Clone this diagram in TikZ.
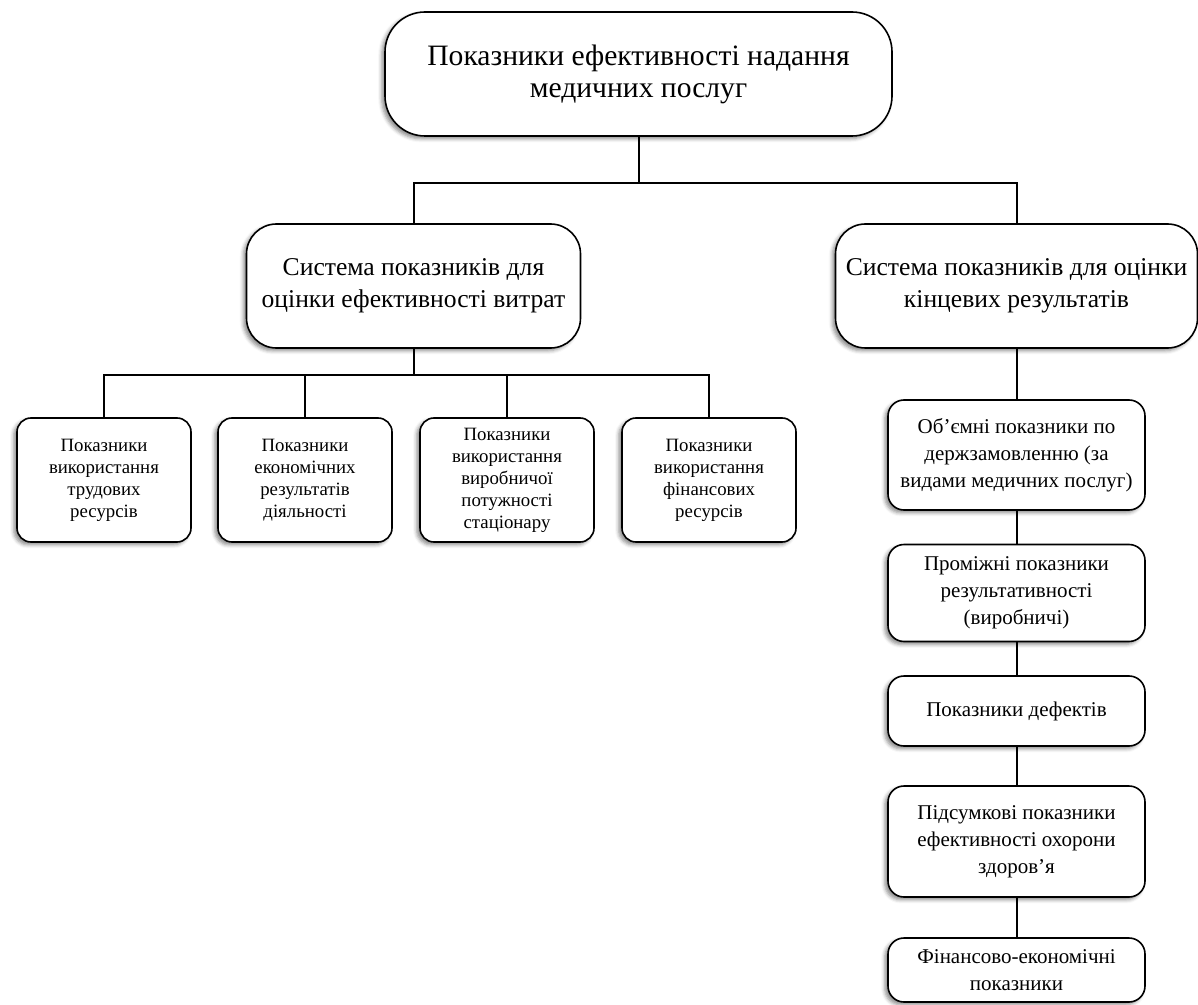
\documentclass[tikz,border=0pt]{standalone}
\usepackage{fontspec}
\setmainfont{Liberation Serif}
\usetikzlibrary{shadows.blur}

\tikzset{
  box/.style={draw, thick, fill=white, align=center, inner sep=2pt,
    blur shadow={shadow xshift=-1.6pt, shadow yshift=-1.4pt, shadow blur radius=1.8pt, shadow opacity=45}},
  topbox/.style={box, rounded corners=20pt, minimum width=253.5pt, minimum height=62pt,
    font=\fontsize{14.8}{16}\selectfont},
  groupbox/.style={box, rounded corners=15pt, minimum height=62pt, inner xsep=0pt,
    font=\fontsize{12.8}{16}\selectfont},
  leafbox/.style={box, rounded corners=7pt, minimum width=87pt, minimum height=62pt,
    font=\fontsize{9.4}{11}\selectfont},
  chainbox/.style={box, rounded corners=8pt, minimum width=128.5pt,
    font=\fontsize{10.5}{13.5}\selectfont},
  link/.style={draw, line width=1pt}
}

\begin{document}
\begin{tikzpicture}[x=0.5pt, y=-0.5pt]
\useasboundingbox (0,0) rectangle (1198,1005);

% top level
\node[topbox] (main) at (638.5,74) {Показники ефективності надання\\медичних послуг};

% two systems
\node[groupbox, minimum width=167pt] (costs) at (413.5,286) {Система показників для\\оцінки ефективності витрат};
\node[groupbox, minimum width=181pt] (results) at (1016.5,286) {Система показників для оцінки\\кінцевих результатів};

% cost indicators
\node[leafbox] (labour) at (104,480) {Показники\\використання\\трудових\\ресурсів};
\node[leafbox] (econ) at (305,480) {Показники\\економічних\\результатів\\діяльності};
\node[leafbox] (capac) at (507,480) {Показники\\використання\\виробничої\\потужності\\стаціонару};
\node[leafbox] (fin) at (709,480) {Показники\\використання\\фінансових\\ресурсів};

% result indicators
\node[chainbox, minimum height=55pt] (vol) at (1016.5,455) {Об’ємні показники по\\держзамовленню (за\\видами медичних послуг)};
\node[chainbox, minimum height=48.5pt] (inter) at (1016.5,593) {Проміжні показники\\результативності\\(виробничі)};
\node[chainbox, minimum height=35pt] (defect) at (1016.5,711) {Показники дефектів};
\node[chainbox, minimum height=55.5pt] (final) at (1016.5,841.5) {Підсумкові показники\\ефективності охорони\\здоров’я};
\node[chainbox, minimum height=32pt] (fineco) at (1016.5,970) {Фінансово-економічні\\показники};

% connectors
\draw[link] (main.south) -- ++(0,46) -| (costs.north);
\draw[link] (main.south) -- ++(0,46) -| (results.north);
\foreach \n in {labour,econ,capac,fin}
  \draw[link] (costs.south) -- ++(0,26) -| (\n.north);
\draw[link] (results) -- (vol);
\draw[link] (vol) -- (inter);
\draw[link] (inter) -- (defect);
\draw[link] (defect) -- (final);
\draw[link] (final) -- (fineco);
\end{tikzpicture}
\end{document}
